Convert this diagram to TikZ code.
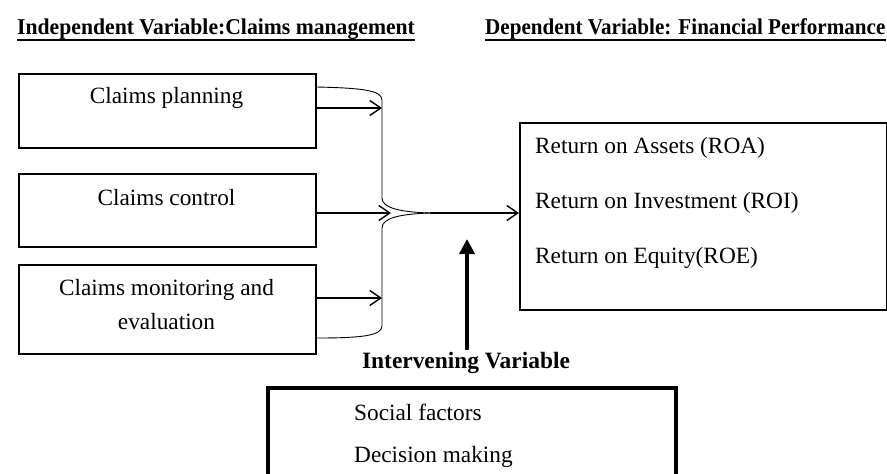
\documentclass[tikz,border=0pt]{standalone}
\usepackage{fontspec}
\setmainfont{Liberation Serif}
\usetikzlibrary{arrows.meta}
\begin{document}
\begin{tikzpicture}[x=1pt,y=-1pt,
  box/.style={draw, line width=1.6pt, minimum width=297pt, inner sep=0pt, anchor=north west},
  txt/.style={font=\fontsize{23.3}{34}\selectfont, inner sep=0pt},
  head/.style={font=\fontsize{22.6}{25}\selectfont\bfseries, inner sep=0pt, anchor=base west},
  uline/.style={line width=1.8pt},
  arr/.style={line width=1.6pt, -{Straight Barb[length=11pt,width=15pt,line width=1.4pt]}},
  brace/.style={line width=0.9pt},
  bigarr/.style={line width=4.5pt, -{Triangle[length=15pt,width=15pt]}},
]
\clip (0,0) rectangle (887,474);
\fill[white] (0,0) rectangle (887,474);

% headings
\node[head] (h1) at (17,34) {\scalebox{0.959}[1]{Independent Variable:Claims management}};
\node[head] (h2) at (485,34) {\scalebox{0.934}[1]{Dependent Variable: Financial Performance}};
\draw[uline] ([yshift=-1pt]h1.south west) -- ([yshift=-1pt]h1.south east);
\draw[uline] ([yshift=-1pt]h2.south west) -- ([yshift=-1pt]h2.south east);

% independent boxes
\node[box, minimum height=74pt] (b1) at (18,73) {};
\node[txt] (t1) at (166.5,98) {Claims planning};
\node[box, minimum height=73pt] (b2) at (18,173) {};
\node[txt] (t2) at (166.5,198) {Claims control};
\node[box, minimum height=89pt] (b3) at (18,264) {};
\node[txt, align=center] (t3) at (166.5,305) {Claims monitoring and\\evaluation};

% dependent box
\node[draw, line width=1.6pt, anchor=north west, minimum width=367pt, minimum height=187pt, inner sep=0pt] (rb) at (519,122) {};
\node[txt, anchor=west] (r1) at (535,148) {Return on Assets (ROA)};
\node[txt, anchor=west] (r2) at (535,203) {Return on Investment (ROI)};
\node[txt, anchor=west] (r3) at (535,258) {Return on Equity(ROE)};

% intervening
\node[txt, font=\fontsize{23.4}{28}\selectfont\bfseries] (ivl) at (466,363) {Intervening Variable};
\node[draw, line width=4pt, anchor=north west, minimum width=408pt, minimum height=130pt, inner sep=0pt] (iv) at (266,386) {};
\node[txt, anchor=west] (s1) at (354,412) {Social factors};
\node[txt, anchor=west] (s2) at (354,457) {Decision making};

% arrows from boxes
\coordinate (e1) at (382,108);
\coordinate (e2) at (391,213);
\coordinate (e3) at (382,298);
\draw[arr] (b1.east |- e1) -- (e1);
\draw[arr] (b2.east |- e2) -- (e2);
\draw[arr] (b3.east |- e3) -- (e3);

% brace
\coordinate (m) at (430,213);
\draw[brace] (b1.east |- 0,87) .. controls (360,88) and (382,90) .. (382,100)
  -- (382,198) .. controls (382,208) and (400,212) .. (m);
\draw[brace] (m) .. controls (400,214) and (382,218) .. (382,228)
  -- (382,326) .. controls (382,336) and (360,338) .. (b3.east |- 0,338);

% to dependent box
\draw[arr] (m) -- (rb.west |- m);

% thick arrow
\coordinate (tt) at (467,239);
\draw[bigarr] (ivl.north -| tt) ++(0,-2) -- (tt);
\end{tikzpicture}
\end{document}
